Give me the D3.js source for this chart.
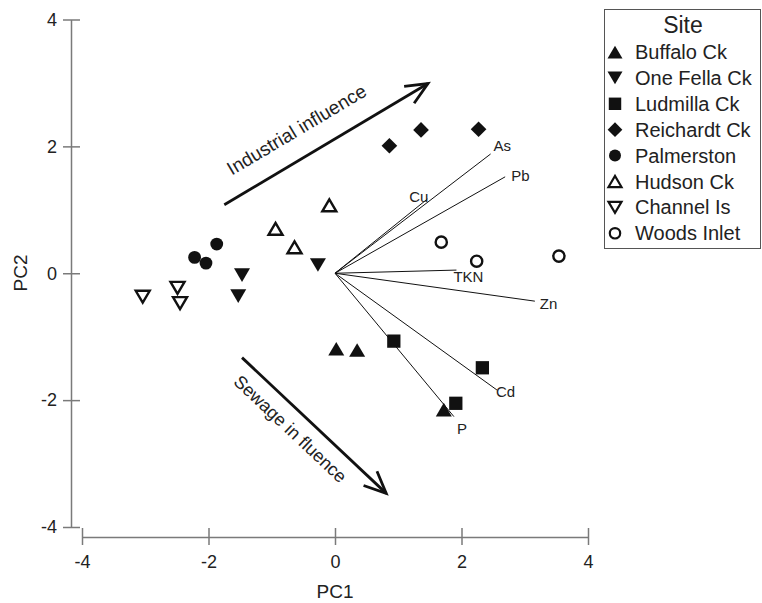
<!DOCTYPE html>
<html>
<head>
<meta charset="utf-8">
<script src="https://cdnjs.cloudflare.com/ajax/libs/d3/7.8.5/d3.min.js"></script>
<style>
  body { margin: 0; background: #fff; }
  svg { font-family: "Liberation Sans", Arial, sans-serif; }
</style>
</head>
<body>
<svg id="chart" width="762" height="603"></svg>
<script>
// site scores (PC1, PC2)
var sites = ['Buffalo Ck', 'One Fella Ck', 'Ludmilla Ck', 'Reichardt Ck',
             'Palmerston', 'Hudson Ck', 'Channel Is', 'Woods Inlet'];
var siteShapes = ['triUp', 'triDown', 'square', 'diamond', 'circle', 'triUp', 'triDown', 'circle'];
var siteFilled = [true, true, true, true, true, false, false, false];

var pc1Buffalo = [0.02, 0.35, 1.72],  pc2Buffalo = [-1.19, -1.21, -2.15];
var pc1OneFella = [-1.47, -1.53, -0.27], pc2OneFella = [-0.03, -0.36, 0.13];
var pc1Ludmilla = [0.93, 2.33, 1.91], pc2Ludmilla = [-1.07, -1.49, -2.05];
var pc1Reichardt = [0.86, 1.36, 2.27], pc2Reichardt = [2.01, 2.26, 2.27];
var pc1Palmerston = [-2.22, -2.04, -1.87], pc2Palmerston = [0.25, 0.16, 0.46];
var pc1Hudson = [-0.94, -0.64, -0.09], pc2Hudson = [0.70, 0.41, 1.07];
var pc1Channel = [-3.04, -2.49, -2.45], pc2Channel = [-0.37, -0.23, -0.47];
var pc1Woods = [1.68, 2.24, 3.54], pc2Woods = [0.49, 0.19, 0.27];

// variable loadings
var variables = ['As', 'Pb', 'Cu', 'TKN', 'Zn', 'Cd', 'P'];
var loadPC1 = [2.46, 2.69, 1.46, 1.92, 3.16, 2.56, 1.88];
var loadPC2 = [1.88, 1.52, 1.17, 0.05, -0.44, -1.84, -2.26];

// interpretation arrows [x1, y1, x2, y2] in PC units
var arrowLabels = ['Industrial influence', 'Sewage in fluence'];
var arrowCoords = [[-1.75, 1.08, 1.47, 2.99], [-1.47, -1.33, 0.81, -3.47]];

var axisTicks = [-4, -2, 0, 2, 4];

var pc1All = [pc1Buffalo, pc1OneFella, pc1Ludmilla, pc1Reichardt, pc1Palmerston, pc1Hudson, pc1Channel, pc1Woods];
var pc2All = [pc2Buffalo, pc2OneFella, pc2Ludmilla, pc2Reichardt, pc2Palmerston, pc2Hudson, pc2Channel, pc2Woods];

var points = [];
sites.forEach(function(s, i){
  for (var j = 0; j < pc1All[i].length; j++) {
    points.push({site: s, shape: siteShapes[i], filled: siteFilled[i], x: pc1All[i][j], y: pc2All[i][j]});
  }
});

// label placement for loading vectors (style only)
var vecLabelStyle = {
  'As':  {anchor: 'start', dx: 3, dy: -3},
  'Pb':  {anchor: 'start', dx: 6, dy: 4},
  'Cu':  {anchor: 'end', dx: 1, dy: 3},
  'TKN': {anchor: 'start', dx: -3, dy: 12},
  'Zn':  {anchor: 'start', dx: 5, dy: 8},
  'Cd':  {anchor: 'start', dx: -1, dy: 7},
  'P':   {anchor: 'start', dx: 3, dy: 17}
};

var svg = d3.select('#chart');

var x = d3.scaleLinear().domain([-4, 4]).range([82, 588]);
var y = d3.scaleLinear().domain([-4, 4]).range([527, 19.5]);

// marker path builder
function markerPath(shape, s) {
  var p = d3.path();
  if (shape == 'triUp') {
    p.moveTo(-s, s * 0.85); p.lineTo(s, s * 0.85); p.lineTo(0, -s * 0.85); p.closePath();
  } else if (shape == 'triDown') {
    p.moveTo(-s, -s * 0.85); p.lineTo(s, -s * 0.85); p.lineTo(0, s * 0.85); p.closePath();
  } else if (shape == 'square') {
    var h = s * 0.83;
    p.rect(-h, -h, 2 * h, 2 * h);
  } else if (shape == 'diamond') {
    var d = s * 0.98;
    p.moveTo(0, -d); p.lineTo(d, 0); p.lineTo(0, d); p.lineTo(-d, 0); p.closePath();
  } else {
    p.arc(0, 0, s * 0.8, 0, 2 * Math.PI);
  }
  return p.toString();
}

// axes (plain hyphen minus like the original)
var fmt = function(d){ return String(d); };
var yAxis = d3.axisLeft(y).tickValues(axisTicks).tickFormat(fmt).tickSize(8).tickSizeOuter(0);
var gy = svg.append('g').attr('transform', 'translate(71,0)').call(yAxis);
gy.selectAll('.tick line').attr('x1', -8).attr('x2', 9);
gy.selectAll('.tick text').attr('x', -14).style('font-size', '18px');

var xAxis = d3.axisBottom(x).tickValues(axisTicks).tickFormat(fmt).tickSize(8).tickSizeOuter(0);
var gx = svg.append('g').attr('transform', 'translate(0,537)').call(xAxis);
gx.selectAll('.tick line').attr('y1', -9).attr('y2', 8);
gx.selectAll('.tick text').attr('y', 18).style('font-size', '18px');

[gx, gy].forEach(function(g){
  g.select('.domain').attr('stroke', '#7a7a7a').attr('stroke-width', 1.5);
  g.selectAll('.tick line').attr('stroke', '#7a7a7a').attr('stroke-width', 1.5);
  g.selectAll('.tick text').attr('fill', '#222').style('font-family', '"Liberation Sans", Arial, sans-serif');
});

svg.append('text').attr('x', 335).attr('y', 598).attr('text-anchor', 'middle')
  .style('font-size', '19px').attr('fill', '#222').text('PC1');
svg.append('text').attr('transform', 'translate(27,273) rotate(-90)').attr('text-anchor', 'middle')
  .style('font-size', '19px').attr('fill', '#222').text('PC2');

// loading vectors
var vec = svg.append('g');
variables.forEach(function(v, i){
  vec.append('line')
    .attr('x1', x(0)).attr('y1', y(0))
    .attr('x2', x(loadPC1[i])).attr('y2', y(loadPC2[i]))
    .attr('stroke', '#111').attr('stroke-width', 1);
  var st = vecLabelStyle[v];
  vec.append('text')
    .attr('x', x(loadPC1[i]) + st.dx).attr('y', y(loadPC2[i]) + st.dy)
    .attr('text-anchor', st.anchor).style('font-size', '15px').attr('fill', '#222')
    .text(v);
});

// interpretation arrows
var arrows = svg.append('g');
arrowCoords.forEach(function(c, i){
  var x1 = x(c[0]), y1 = y(c[1]), x2 = x(c[2]), y2 = y(c[3]);
  var ang = Math.atan2(y2 - y1, x2 - x1);
  arrows.append('line').attr('x1', x1).attr('y1', y1).attr('x2', x2).attr('y2', y2)
    .attr('stroke', '#111').attr('stroke-width', 2.8);
  var L = 24, spread = 0.42;
  var head = d3.path();
  head.moveTo(x2 - L * Math.cos(ang - spread), y2 - L * Math.sin(ang - spread));
  head.lineTo(x2, y2);
  head.lineTo(x2 - L * Math.cos(ang + spread), y2 - L * Math.sin(ang + spread));
  arrows.append('path').attr('d', head.toString()).attr('fill', 'none')
    .attr('stroke', '#111').attr('stroke-width', 2.8);
  var deg = ang * 180 / Math.PI;
  // text runs parallel to arrow, offset to its side
  var mx = (x1 + x2) / 2, my = (y1 + y2) / 2;
  var off = i == 0 ? -21 : 25;
  var nx = -Math.sin(ang), ny = Math.cos(ang);
  var shift = i == 0 ? -18 : -15;
  var tx = mx + nx * off + Math.cos(ang) * shift, ty = my + ny * off + Math.sin(ang) * shift;
  arrows.append('text')
    .attr('transform', 'translate(' + tx + ',' + ty + ') rotate(' + deg + ')')
    .attr('text-anchor', 'middle').style('font-size', i == 0 ? '19px' : '18px').attr('fill', '#222')
    .text(arrowLabels[i]);
});

// site points
svg.append('g').selectAll('path').data(points).enter().append('path')
  .attr('transform', function(d){ return 'translate(' + x(d.x) + ',' + y(d.y) + ')'; })
  .attr('d', function(d){ return markerPath(d.shape, d.filled ? 8 : 7); })
  .attr('fill', function(d){ return d.filled ? '#111' : 'none'; })
  .attr('stroke', '#111')
  .attr('stroke-width', function(d){ return d.filled ? 0 : 2.4; })
  .attr('stroke-linejoin', 'miter');

// legend
var lg = svg.append('g');
lg.append('rect').attr('x', 604.5).attr('y', 9.5).attr('width', 156).attr('height', 239)
  .attr('fill', '#fff').attr('stroke', '#555').attr('stroke-width', 1);
lg.append('text').attr('x', 683).attr('y', 33).attr('text-anchor', 'middle')
  .style('font-size', '23px').attr('fill', '#222').text('Site');
sites.forEach(function(s, i){
  var cy = 52 + i * 25.9;
  lg.append('path').attr('transform', 'translate(615,' + cy + ')')
    .attr('d', markerPath(siteShapes[i], siteFilled[i] ? 7.5 : 6.5))
    .attr('fill', siteFilled[i] ? '#111' : 'none')
    .attr('stroke', '#111').attr('stroke-width', siteFilled[i] ? 0 : 2.2);
  lg.append('text').attr('x', 635).attr('y', cy + 7).style('font-size', '20px')
    .attr('fill', '#222').text(s);
});
</script>
</body>
</html>
